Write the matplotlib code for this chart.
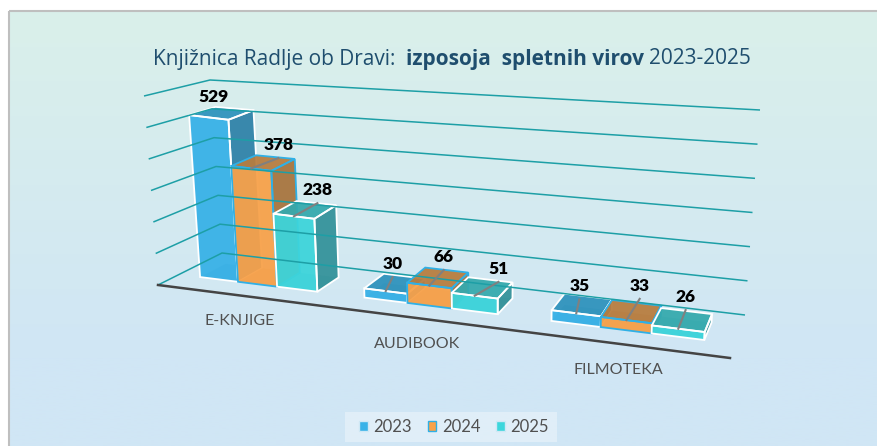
#!/usr/bin/env python3
"""Knjiznica Radlje ob Dravi chart, drawn as a skewed 3D column chart."""

import numpy as np
import matplotlib
matplotlib.use("Agg")
import matplotlib.pyplot as plt
from matplotlib.patches import Patch, Polygon, Rectangle

categories = ["E-KNJIGE", "AUDIBOOK", "FILMOTEKA"]
years = ["2023", "2024", "2025"]
values_2023 = [529, 30, 35]
values_2024 = [378, 66, 33]
values_2025 = [238, 51, 26]
axis_ticks = [0, 100, 200, 300, 400, 500, 600]

W, H = 877, 446
AXIS_MAX = 600
GROUP_WIDTH = 0.242
DEPTH = (0.33, 0.74)
WARP = 1.22

# screen pixels of the plot box: F/B front/back, L/R left/right, B/T bottom/top
FLB, FRB, BLB, BRB = (158, 285), (730, 358), (222, 253), (745, 315)
FLT, FRT, BLT, BRT = (144, 96), (738, 184), (210, 80), (760, 110)

FRONT = ["#38b2e8", "#f9a24a", "#3dd6dc"]
TOP = ["#2f93bd", "#b87d3f", "#35aaae"]
SIDE = ["#2f82a8", "#a8743e", "#34929a"]
EDGE = ["white", "#2fb0e6", "white"]
GRID = "#1d9fa6"
TEXT = "#505050"
TITLE = "#1f4e6e"

# data labels were dragged by hand in the original, offsets from the bar's back edge
LABEL_SHIFT = {529: (-21, 0), 378: (3, 0), 238: (1, -1), 30: (-12, 0), 66: (-3, -1),
               51: (8, 1), 35: (-9, 2), 33: (3, -5), 26: (-1, -2)}


def project(u, d, v):
    """Category position u (0-1), depth d (0-1), value v -> screen pixels."""
    t = u / (u + WARP * (1 - u))
    h = v / AXIS_MAX
    out = []
    for k in range(2):
        bottom = ((1 - t) * FLB[k] + t * FRB[k]) * (1 - d) + ((1 - t) * BLB[k] + t * BRB[k]) * d
        top = ((1 - t) * FLT[k] + t * FRT[k]) * (1 - d) + ((1 - t) * BLT[k] + t * BRT[k]) * d
        out.append(bottom * (1 - h) + top * h)
    return out


def draw_bar(ax, u0, u1, value, idx):
    d0, d1 = DEPTH
    pts = {
        "flb": project(u0, d0, 0), "frb": project(u1, d0, 0),
        "blb": project(u0, d1, 0), "brb": project(u1, d1, 0),
        "flt": project(u0, d0, value), "frt": project(u1, d0, value),
        "blt": project(u0, d1, value), "brt": project(u1, d1, value),
    }
    faces = [
        (("blb", "brb", "brt", "blt"), SIDE[idx], 0.25),
        (("flb", "blb", "blt", "flt"), SIDE[idx], 0.25),
        (("flb", "frb", "brb", "blb"), SIDE[idx], 0.55),
        (("frb", "brb", "brt", "frt"), SIDE[idx], 0.92),
        (("flt", "frt", "brt", "blt"), TOP[idx], 0.92),
        (("flb", "frb", "frt", "flt"), FRONT[idx], 0.93),
    ]
    for names, color, alpha in faces:
        ax.add_patch(Polygon([pts[n] for n in names], closed=True, facecolor=color,
                             edgecolor="none", alpha=alpha))
    for names in [("frb", "brb", "brt", "frt"), ("flt", "frt", "brt", "blt"),
                  ("flb", "frb", "frt", "flt")]:
        ax.add_patch(Polygon([pts[n] for n in names], closed=True, fill=False,
                             edgecolor=EDGE[idx], lw=1.3))
    return pts


def draw_title(ax, parts, x, y):
    """Mixed weight title, one text per run, placed one after the other."""
    renderer = ax.figure.canvas.get_renderer()
    for part, weight in parts:
        txt = ax.text(x, y, part, fontsize=15, fontfamily="Open Sans", fontweight=weight,
                      color=TITLE, ha="left", va="center")
        box = txt.get_window_extent(renderer)
        x = ax.transData.inverted().transform((box.x1, box.y0))[0]


fig = plt.figure(figsize=(W / 100, H / 100), dpi=100, facecolor="white")
ax = fig.add_axes([0, 0, 1, 1])
ax.set_xlim(0, W)
ax.set_ylim(H, 0)
ax.axis("off")

# chart area with its soft gradient and grey frame
gradient = np.clip(np.linspace(0, 1.25, 256), 0, 1).reshape(-1, 1, 1)
top_col = np.array([0xda, 0xf0, 0xea]) / 255
bot_col = np.array([0xd0, 0xe6, 0xf5]) / 255
ax.imshow(top_col + (bot_col - top_col) * gradient, extent=(9, W, H, 11), aspect="auto", zorder=0)
ax.set_xlim(0, W)
ax.set_ylim(H, 0)
ax.add_patch(Rectangle((9, 11), W + 10, H, fill=False, edgecolor="#bfbfbf", lw=1.5, zorder=1))

# walls
for tick in axis_ticks:
    corners = [project(0, 0, tick), project(0, 1, tick), project(1, 1, tick)]
    ax.plot(*zip(*corners), color=GRID, lw=1.1, zorder=2, solid_capstyle="butt")
axis_line = [project(0, 0, 0), project(1, 0, 0)]
ax.plot(*zip(*axis_line), color="#444444", lw=1.8, zorder=2)

# bars, left to right so that each one sits over the previous one
series = [values_2023, values_2024, values_2025]
for c in range(len(categories)):
    center = (c + 0.5) / len(categories)
    for s, values in enumerate(series):
        u0 = center - GROUP_WIDTH / 2 + s * GROUP_WIDTH / 3
        u1 = u0 + GROUP_WIDTH / 3
        value = values[c]
        pts = draw_bar(ax, u0, u1, value, s)
        front_mid = np.mean([pts["flt"], pts["frt"]], axis=0)
        back_mid = np.mean([pts["blt"], pts["brt"]], axis=0)
        dx, dy = LABEL_SHIFT[value]
        label_x, label_y = back_mid[0] + dx, back_mid[1] - 12 + dy
        if value < 500:  # the tallest label sits close enough to need no leader
            ax.plot([front_mid[0], label_x], [front_mid[1], label_y + 13],
                    color="#808080", lw=1.5, zorder=6)
        ax.text(label_x, label_y, str(value), fontsize=12.5, fontfamily="Lato",
                fontweight="heavy", color="black", ha="center", va="center", zorder=7)

# category names
for name, pos in zip(categories, [(240, 321), (417.5, 344), (618.5, 370)]):
    ax.text(pos[0], pos[1], name, fontsize=11.5, fontfamily="Lato", color=TEXT,
            ha="center", va="center")

draw_title(ax, [("Knjižnica Radlje ob Dravi:  ", "normal"), ("izposoja  spletnih virov ", "bold"),
                ("2023-2025", "normal")], 153, 59)

ax.add_patch(Rectangle((345, 412), 212, 30, facecolor="white", edgecolor="none", alpha=0.35, zorder=3))
handles = [Patch(facecolor=FRONT[i], edgecolor=EDGE[i] if i == 1 else "#cfe8f5", lw=1, label=years[i])
           for i in range(3)]
ax.legend(handles=handles, ncol=3, loc="center", bbox_to_anchor=(454, 427),
          bbox_transform=ax.transData, frameon=False, labelcolor=TEXT,
          handlelength=0.5, handleheight=0.5, handletextpad=0.35, columnspacing=0.95,
          prop={"family": "Lato", "size": 12})

fig.savefig("out.png", dpi=100)
